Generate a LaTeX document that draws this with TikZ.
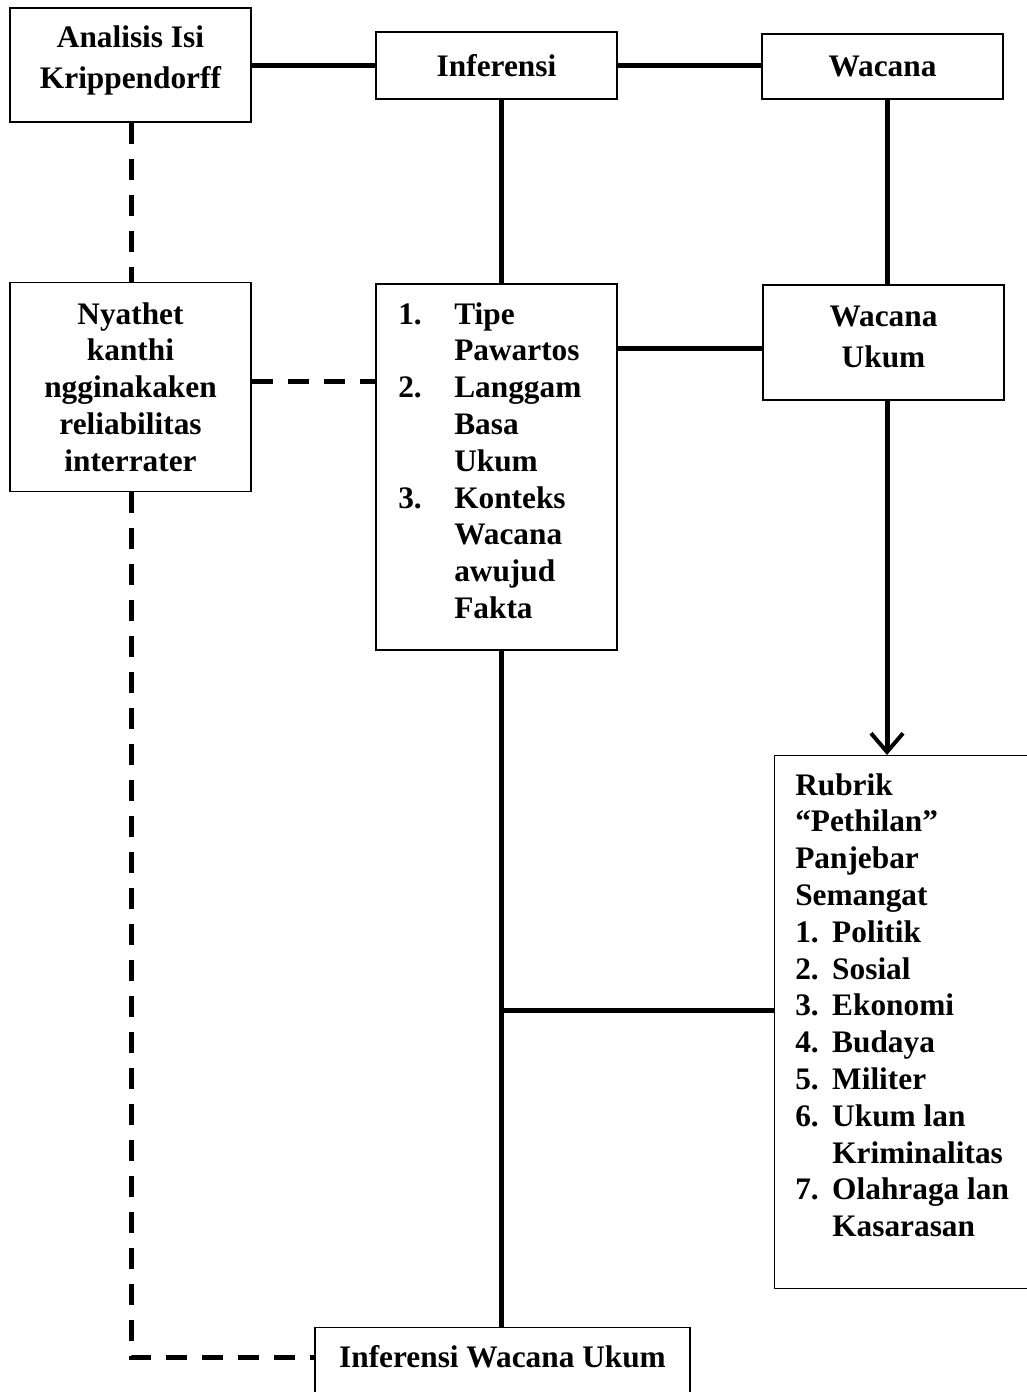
\documentclass[tikz,border=0pt]{standalone}
\usepackage{fontspec}
\setmainfont{Liberation Serif}
\usetikzlibrary{arrows.meta}
\begin{document}
\begin{tikzpicture}[x=0.75pt,y=-0.75pt,
  bfont/.style={font=\fontsize{23.5}{27.6}\selectfont\bfseries},
  box/.style={draw, line width=0.8pt, inner sep=0pt, bfont, align=center},
  frame/.style={draw, line width=0.8pt, inner sep=0pt},
  txt/.style={inner sep=0pt, bfont, align=left},
  ctxt/.style={inner sep=0pt, bfont, align=center},
  link/.style={line width=3.75pt},
  dlink/.style={line width=3.75pt, dash pattern=on 16pt off 11pt}]
\clip (0,0) rectangle (1027,1392);
\fill[white] (0,0) rectangle (1027,1392);
% boxes
\node[frame, minimum width=180.75pt, minimum height=85.5pt] (A) at (130.5,65) {};
\node[ctxt] (At) at (130.5,60) {Analisis Isi\\[3.2pt]Krippendorff};
\node[box, minimum width=180.75pt, minimum height=50.25pt] (B) at (496.5,65.5) {Inferensi};
\node[box, minimum width=180.75pt, minimum height=48.75pt] (C) at (882.5,66.5) {Wacana};
\node[box, minimum width=180.75pt, minimum height=156.75pt] (D) at (130.5,387) {Nyathet\\kanthi\\ngginakaken\\reliabilitas\\interrater};
\node[frame, minimum width=180.75pt, minimum height=274.5pt] (E) at (496.5,467) {};
\node[txt, anchor=north west] (Et) at (398,302) {%
\makebox[42pt][l]{1.}Tipe\\\hspace*{42pt}Pawartos\\
\makebox[42pt][l]{2.}Langgam\\\hspace*{42pt}Basa\\\hspace*{42pt}Ukum\\
\makebox[42pt][l]{3.}Konteks\\\hspace*{42pt}Wacana\\\hspace*{42pt}awujud\\\hspace*{42pt}Fakta};
\node[frame, minimum width=180.75pt, minimum height=86.25pt] (F) at (883.5,342.5) {};
\node[ctxt] (Ft) at (883.5,337) {Wacana\\[3.2pt]Ukum};
\node[frame, anchor=north west, minimum width=200pt, minimum height=399.75pt] (G) at (774,755) {};
\node[txt, anchor=north west] (Gt) at (795,773) {%
Rubrik\\``Pethilan''\\Panjebar\\Semangat\\
\makebox[27.75pt][l]{1.}Politik\\
\makebox[27.75pt][l]{2.}Sosial\\
\makebox[27.75pt][l]{3.}Ekonomi\\
\makebox[27.75pt][l]{4.}Budaya\\
\makebox[27.75pt][l]{5.}Militer\\
\makebox[27.75pt][l]{6.}Ukum lan\\\hspace*{27.75pt}Kriminalitas\\
\makebox[27.75pt][l]{7.}Olahraga lan\\\hspace*{27.75pt}Kasarasan};
\node[box, anchor=north, minimum width=281.25pt, text height=30pt, text depth=30pt] (H) at (502.5,1327) {Inferensi Wacana Ukum};
% column coordinates
\coordinate (xL) at (131,0);
\coordinate (xM) at (501,0);
\coordinate (xR) at (887,0);
\coordinate (br) at (501,1010);
\coordinate (cn) at (131,1357);
% connectors
\draw[link] (A.east |- B.center) -- (B.west);
\draw[link] (B.east) -- (C.west |- B.east);
\draw[link] (B.south -| xM) -- (E.north -| xM);
\draw[link] (C.south -| xR) -- (F.north -| xR);
\draw[link] (E.east |- 0,348) -- (F.west |- 0,348);
\draw[link, -{Straight Barb[length=14pt,width=24pt,line width=3pt]}] (F.south -| xR) -- (G.north -| xR);
\draw[link] (E.south -| xM) -- (H.north -| xM);
\draw[link] (br) -- (br -| G.west);
\draw[dlink] (A.south -| xL) -- (D.north -| xL);
\draw[dlink] (D.east |- 0,381) -- (E.west |- 0,381);
\draw[dlink] (D.south -| xL) -- (cn) -- (cn -| H.west);
\end{tikzpicture}
\end{document}
